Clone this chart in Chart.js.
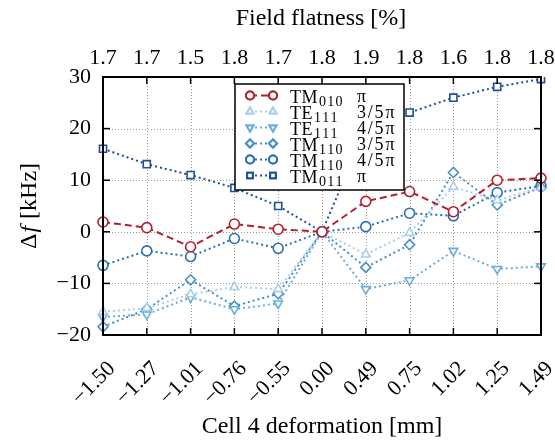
<!DOCTYPE html>
<html><head><meta charset="utf-8">
<script src="https://cdn.jsdelivr.net/npm/chart.js@4"></script>
<style>html,body{margin:0;padding:0;background:#fff}#wrap{width:555px;height:441px;position:relative}</style>
</head><body><div id="wrap"><canvas id="c" width="555" height="441"></canvas></div>
<script>
const deformation = ['\u22121.50','\u22121.27','\u22121.01','\u22120.76','\u22120.55','0.00','0.49','0.75','1.02','1.25','1.49'];
const flatness = ['1.7','1.7','1.5','1.8','1.7','1.8','1.9','1.8','1.6','1.8','1.8'];
const tm010_pi   = [1.9, 0.8, -2.9, 1.5, 0.5, 0, 5.9, 7.8, 3.9, 10.0, 10.4];
const te111_3_5  = [-15.5, -14.8, -12.1, -10.7, -11.1, 0, -4.4, -0.2, 8.7, 6.1, 8.6];
const te111_4_5  = [-16.5, -16.0, -12.7, -15.0, -13.9, 0, -11.1, -9.4, -3.7, -7.2, -6.7];
const tm110_3_5  = [-18.4, -15.0, -9.3, -14.4, -12.0, 0, -6.9, -2.5, 11.5, 5.2, 8.6];
const tm110_4_5  = [-6.5, -3.7, -4.8, -1.3, -3.2, 0, 1.0, 3.6, 3.1, 7.6, 8.9];
const tm011_pi   = [16.1, 13.1, 11.0, 8.5, 5.0, 0, 20.0, 23.1, 26.0, 28.1, 29.6];
const yTicks = [-20, -10, 0, 10, 20, 30];

const legendItems = [
  {main:'TM', sub:'010', tail:'\u03c0'},
  {main:'TE', sub:'111', tail:'3/5\u03c0'},
  {main:'TE', sub:'111', tail:'4/5\u03c0'},
  {main:'TM', sub:'110', tail:'3/5\u03c0'},
  {main:'TM', sub:'110', tail:'4/5\u03c0'},
  {main:'TM', sub:'011', tail:'\u03c0'}
];

const SERIF = '"Liberation Serif", "DejaVu Serif", serif';

function ds(label, data, color, style, dash, rot) {
  return {
    label, data,
    borderColor: color, backgroundColor: '#ffffff',
    borderWidth: 2, borderDash: dash,
    pointStyle: style, pointRotation: rot || 0,
    pointRadius: 5, pointBorderWidth: 1.6,
    pointBackgroundColor: '#ffffff', pointBorderColor: color,
    fill: false, tension: 0, xAxisID: 'x', yAxisID: 'y'
  };
}

const datasets = [
  ds('TM010 π', tm010_pi, '#b2202d', 'circle', [7, 4]),
  ds('TE111 3/5π', te111_3_5, '#a9cfe9', 'triangle', [2, 3]),
  ds('TE111 4/5π', te111_4_5, '#6aaed8', 'triangle', [2, 3], 180),
  ds('TM110 3/5π', tm110_3_5, '#4590c9', 'rectRot', [2, 3]),
  ds('TM110 4/5π', tm110_4_5, '#2a6fb4', 'circle', [2, 3]),
  ds('TM011 π', tm011_pi, '#1f4f96', 'rect', [2, 3])
];

function spacedText(ctx, txt, x, y, sp) {
  let cx = x;
  for (const ch of txt) { ctx.fillText(ch, cx, y); cx += ctx.measureText(ch).width + sp; }
  return cx - x;
}

const decor = {
  id: 'decor',
  beforeDatasetsDraw(chart) {
    const {ctx, chartArea: a, scales} = chart;
    ctx.save();
    ctx.strokeStyle = '#9a9a9a';
    ctx.lineWidth = 1;
    ctx.setLineDash([1, 2]);
    scales.x.ticks.forEach((t, i) => {
      const px = Math.round(scales.x.getPixelForTick(i)) + 0.5;
      ctx.beginPath(); ctx.moveTo(px, a.top); ctx.lineTo(px, a.bottom); ctx.stroke();
    });
    scales.y.ticks.forEach((t, i) => {
      const py = Math.round(scales.y.getPixelForTick(i)) + 0.5;
      ctx.beginPath(); ctx.moveTo(a.left, py); ctx.lineTo(a.right, py); ctx.stroke();
    });
    ctx.restore();
  },
  afterDatasetsDraw(chart) {
    const {ctx, chartArea: a, scales} = chart;
    ctx.save();
    ctx.setLineDash([]);
    ctx.strokeStyle = '#000';
    ctx.lineWidth = 1.5;
    const L = 7;
    scales.x.ticks.forEach((t, i) => {
      const px = scales.x.getPixelForTick(i);
      ctx.beginPath(); ctx.moveTo(px, a.bottom); ctx.lineTo(px, a.bottom - L); ctx.stroke();
      ctx.beginPath(); ctx.moveTo(px, a.top); ctx.lineTo(px, a.top + L); ctx.stroke();
    });
    scales.y.ticks.forEach((t, i) => {
      const py = scales.y.getPixelForTick(i);
      ctx.beginPath(); ctx.moveTo(a.left, py); ctx.lineTo(a.left + L, py); ctx.stroke();
      ctx.beginPath(); ctx.moveTo(a.right, py); ctx.lineTo(a.right - L, py); ctx.stroke();
    });
    ctx.lineWidth = 2;
    ctx.strokeRect(a.left, a.top, a.right - a.left, a.bottom - a.top);

    // legend
    const bx = 235, by = 84, bw = 169, bh = 106;
    ctx.fillStyle = '#fff';
    ctx.fillRect(bx, by, bw, bh);
    ctx.lineWidth = 1.5;
    ctx.strokeRect(bx, by, bw, bh);
    legendItems.forEach((it, i) => {
      const d = chart.data.datasets[i];
      const y = by + 11.5 + i * 16;
      ctx.save();
      ctx.strokeStyle = d.borderColor;
      ctx.lineWidth = 2;
      ctx.setLineDash(d.borderDash);
      ctx.beginPath(); ctx.moveTo(250, y); ctx.lineTo(273, y); ctx.stroke();
      ctx.setLineDash([]);
      ctx.fillStyle = '#fff';
      [250, 273].forEach(x => {
        Chart.helpers.drawPoint(ctx, {pointStyle: d.pointStyle, rotation: d.pointRotation, radius: 4, borderWidth: 1.5}, x, y);
        ctx.fill(); ctx.stroke();
      });
      ctx.restore();
      ctx.fillStyle = '#000';
      ctx.textBaseline = 'alphabetic';
      ctx.textAlign = 'left';
      ctx.font = '18px ' + SERIF;
      const w = spacedText(ctx, it.main, 290, y + 7, 0.5);
      ctx.font = '14px ' + SERIF;
      spacedText(ctx, it.sub, 290 + w + 1, y + 10, 1.3);
      ctx.font = '18px ' + SERIF;
      spacedText(ctx, it.tail, 357, y + 6, 1.8);
    });

    // axis titles
    ctx.fillStyle = '#000';
    ctx.textAlign = 'center';
    ctx.textBaseline = 'middle';
    ctx.font = '24px ' + SERIF;
    ctx.fillText('Field flatness [%]', 321, 19);
    ctx.fillText('Cell 4 deformation [mm]', 322, 427);
    ctx.translate(30, 206);
    ctx.rotate(-Math.PI / 2);
    ctx.textAlign = 'left';
    const p1 = '\u0394', p2 = 'f', p3 = ' [kHz]';
    ctx.font = '24px ' + SERIF;
    const w1 = ctx.measureText(p1).width, w3 = ctx.measureText(p3).width;
    ctx.font = 'italic 24px ' + SERIF;
    const w2 = ctx.measureText(p2).width;
    let x0 = -(w1 + w2 + w3 + 2) / 2;
    ctx.font = '24px ' + SERIF;
    ctx.fillText(p1, x0, 0);
    ctx.font = 'italic 24px ' + SERIF;
    ctx.fillText(p2, x0 + w1 + 1, 0);
    ctx.font = '24px ' + SERIF;
    ctx.fillText(p3, x0 + w1 + w2 + 2, 0);
    ctx.restore();
  }
};

function noPad(s) { s.paddingLeft = 0; s.paddingRight = 0; s.paddingTop = 0; s.paddingBottom = 0; }

new Chart(document.getElementById('c'), {
  type: 'line',
  data: { labels: deformation, datasets },
  options: {
    responsive: false, animation: false,
    layout: { padding: { left: 0, right: 14, top: 0, bottom: 0 } },
    plugins: { legend: { display: false }, tooltip: { enabled: false } },
    scales: {
      x: {
        type: 'category', position: 'bottom', offset: false,
        grid: { display: false, drawTicks: false }, border: { display: false },
        ticks: { color: '#000', font: { family: SERIF, size: 22 }, minRotation: 45, maxRotation: 45, padding: 21, labelOffset: 9, autoSkip: false },
        afterFit(s) { s.height = 106; noPad(s); }
      },
      x2: {
        type: 'category', position: 'top', offset: false, labels: flatness, min: 0, max: 10,
        grid: { display: false, drawTicks: false }, border: { display: false },
        ticks: { color: '#000', font: { family: SERIF, size: 22 }, maxRotation: 0, minRotation: 0, padding: 6, autoSkip: false },
        afterFit(s) { s.height = 77; noPad(s); }
      },
      y: {
        type: 'linear', position: 'left', min: -20, max: 30,
        grid: { display: false, drawTicks: false }, border: { display: false },
        afterBuildTicks(s) { s.ticks = yTicks.map(v => ({ value: v })); },
        ticks: { color: '#000', font: { family: SERIF, size: 22 }, padding: 12,
          callback: v => (v < 0 ? '\u2212' + Math.abs(v) : String(v)) },
        afterFit(s) { s.width = 103; noPad(s); }
      }
    }
  },
  plugins: [decor]
});
</script>
</body></html>
